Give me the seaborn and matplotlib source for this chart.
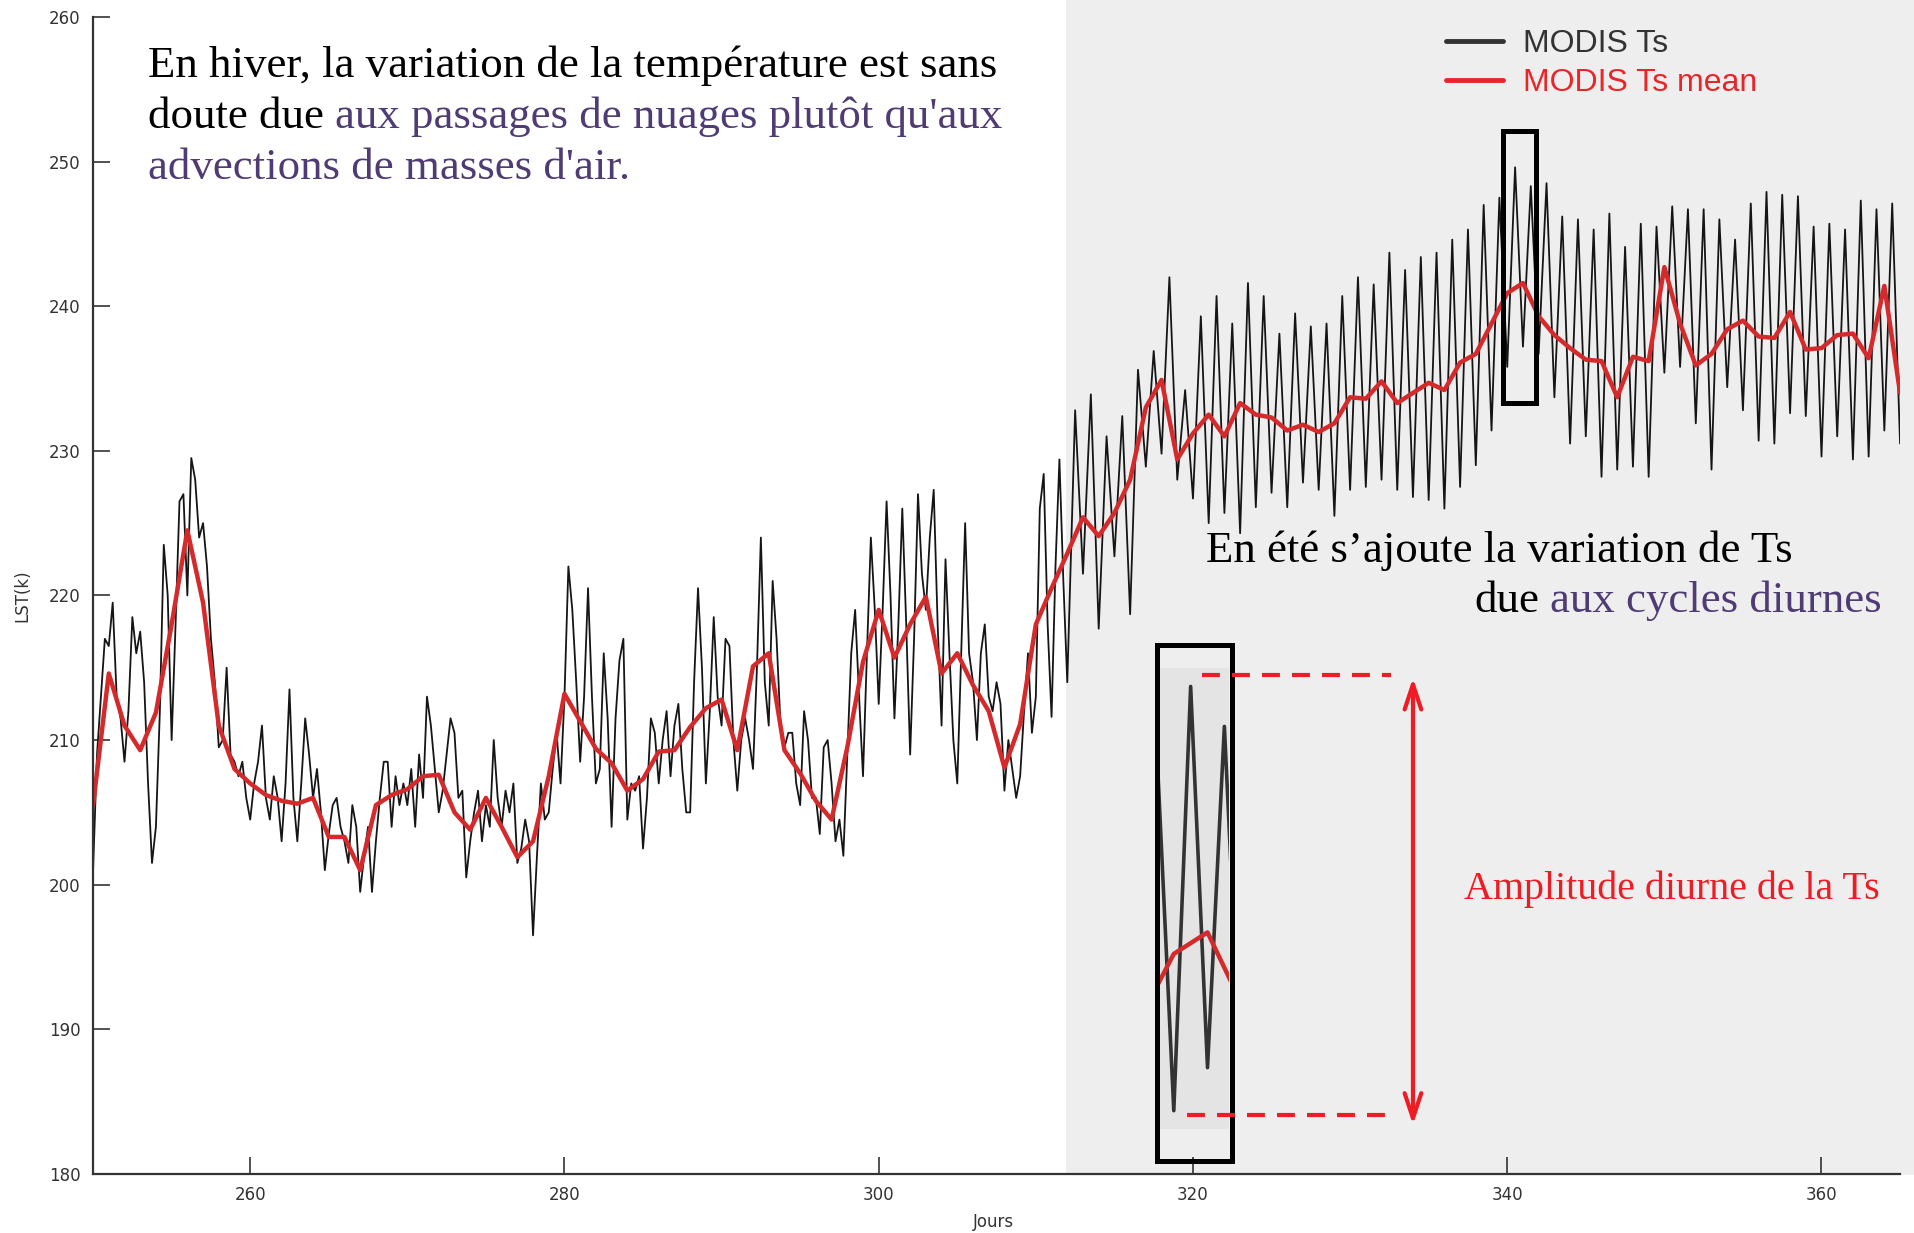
import numpy as np
import pandas as pd
import seaborn as sns
import matplotlib.pyplot as plt
from matplotlib.patches import Rectangle
from matplotlib.transforms import Affine2D

# MODIS Ts, hiver : 4 valeurs par jour (jours 250 a 312)
winter_days = np.arange(250, 312.01, 0.25)
winter_ts = [
    201.0, 209.0, 213.0, 217.0, 216.5, 219.5, 213.0, 211.5,
    208.5, 212.0, 218.5, 216.0, 217.5, 214.0, 207.0, 201.5,
    204.0, 212.0, 223.5, 220.0, 210.0, 218.0, 226.5, 227.0,
    220.0, 229.5, 228.0, 224.0, 225.0, 222.0, 217.0, 214.0,
    209.5, 210.0, 215.0, 209.0, 208.5, 207.5, 208.5, 206.0,
    204.5, 207.0, 208.5, 211.0, 206.0, 204.5, 207.5, 206.0,
    203.0, 207.0, 213.5, 206.0, 203.0, 207.0, 211.5, 209.0,
    206.0, 208.0, 205.0, 201.0, 203.5, 205.5, 206.0, 204.0,
    203.0, 201.5, 205.5, 204.0, 199.5, 202.0, 204.0, 199.5,
    203.0, 206.0, 208.5, 208.5, 204.0, 207.5, 205.5, 207.0,
    205.5, 208.0, 204.0, 209.0, 206.0, 213.0, 211.0, 208.0,
    205.0, 206.5, 209.0, 211.5, 210.5, 206.0, 206.5, 200.5,
    203.0, 205.0, 206.5, 203.0, 205.5, 204.0, 210.0, 206.0,
    204.0, 206.5, 205.0, 207.0, 201.5, 202.5, 204.5, 203.0,
    196.5, 202.0, 207.0, 204.5, 205.0, 208.0, 210.5, 207.0,
    213.0, 222.0, 219.0, 214.0, 208.5, 213.0, 220.5, 213.0,
    207.0, 208.0, 216.0, 211.5, 204.0, 211.5, 215.5, 217.0,
    204.5, 207.0, 206.5, 207.5, 202.5, 206.0, 211.5, 210.5,
    207.0, 210.0, 212.0, 207.5, 211.0, 212.5, 208.0, 205.0,
    205.0, 214.0, 220.5, 215.0, 207.0, 212.0, 218.5, 213.0,
    211.0, 217.0, 216.5, 210.0, 206.5, 210.0, 211.5, 210.0,
    208.0, 215.0, 224.0, 214.0, 211.0, 221.0, 217.0, 211.0,
    209.5, 210.5, 210.5, 207.0, 205.5, 212.0, 210.0, 206.0,
    206.0, 203.5, 209.5, 210.0, 207.0, 203.0, 204.5, 202.0,
    209.0, 216.0, 219.0, 213.0, 207.5, 216.0, 224.0, 219.0,
    212.5, 219.0, 226.5, 220.0, 211.5, 218.0, 226.0, 218.0,
    209.0, 217.0, 227.0, 221.5, 219.0, 224.0, 227.3, 218.0,
    211.0, 222.5, 216.0, 210.0, 207.0, 216.0, 225.0, 216.0,
    214.0, 210.0, 216.0, 218.0, 213.0, 212.0, 214.0, 212.5,
    206.5, 210.0, 208.0, 206.0, 207.5, 212.0, 216.0, 210.5,
    213.0, 226.0, 228.4, 218.0, 211.6, 222.0, 229.4, 221.0,
    214.0,
]

# MODIS Ts, ete : cycle diurne, 2 valeurs par jour (jours 312.5 a 365)
summer_days = np.arange(312.5, 365.01, 0.5)
summer_ts = [
    232.8, 221.5, 233.9, 217.7, 231.0, 222.7, 232.4, 218.7, 235.6, 228.9,
    236.9, 229.8, 242.0, 228.0, 234.2, 226.7, 239.3, 225.0, 240.7, 225.7,
    238.8, 224.3, 241.6, 226.1, 240.7, 227.1, 238.1, 226.1, 239.5, 227.8,
    238.6, 227.3, 238.8, 225.5, 240.7, 227.3, 242.0, 227.5, 241.5, 228.0,
    243.7, 227.3, 242.5, 226.8, 243.4, 226.6, 243.7, 226.0, 244.6, 227.5,
    245.3, 229.0, 247.0, 231.4, 247.5, 235.8, 249.6, 237.2, 248.3, 236.7,
    248.5, 233.7, 246.2, 230.5, 246.0, 231.0, 245.3, 228.2, 246.4, 228.7,
    244.1, 228.9, 245.7, 228.2, 245.5, 235.4, 246.9, 235.8, 246.7, 231.9,
    246.7, 228.7, 246.0, 234.4, 244.6, 232.8, 247.1, 230.7, 247.9, 230.5,
    247.7, 232.6, 247.6, 232.4, 245.5, 229.6, 245.7, 231.0, 245.3, 229.4,
    247.3, 229.6, 246.7, 231.4, 247.1, 230.5,
]

# MODIS Ts mean, une valeur par jour (250 a 365)
mean_days = np.arange(250, 366)
mean_ts = [
    205.5, 214.6, 211.0, 209.3, 211.9, 218.0, 224.5, 219.5, 211.0, 208.0,
    207.0, 206.2, 205.8, 205.6, 206.0, 203.3, 203.3, 201.0, 205.5, 206.2,
    206.6, 207.5, 207.6, 205.0, 203.8, 206.0, 204.0, 201.9, 203.0, 207.5,
    213.2, 211.3, 209.4, 208.4, 206.5, 207.3, 209.2, 209.3, 210.9, 212.2,
    212.8, 209.3, 215.1, 216.0, 209.3, 207.7, 205.8, 204.5, 209.5, 215.4,
    219.0, 215.7, 218.0, 219.9, 214.6, 216.0, 213.8, 212.0, 208.1, 211.1,
    218.0, 220.5, 222.9, 225.4, 224.1, 225.7, 228.0, 233.0, 234.9, 229.4,
    231.2, 232.5, 231.0, 233.3, 232.5, 232.3, 231.4, 231.8, 231.3, 231.9,
    233.7, 233.6, 234.8, 233.3, 234.0, 234.7, 234.2, 236.1, 236.7, 238.8,
    240.9, 241.6, 239.3, 238.0, 237.1, 236.3, 236.2, 233.7, 236.5, 236.2,
    242.7, 238.8, 235.9, 236.7, 238.4, 239.0, 237.9, 237.8, 239.6, 237.0,
    237.1, 238.0, 238.1, 236.4, 241.4, 234.0,
]

ts = pd.DataFrame({'jour': np.concatenate([winter_days, summer_days]),
                   'ts': winter_ts + summer_ts})
ts_mean = pd.DataFrame({'jour': mean_days, 'ts': mean_ts})

BLACK = '#151515'
RED_LINE = '#d42a2c'
RED = '#ee1c24'
PURPLE = '#4f3c75'

sns.set_theme(style='ticks')
plt.rcParams['font.family'] = ['DejaVu Sans']

fig = plt.figure(figsize=(19.15, 12.33), dpi=100)
# fond gris de la partie "ete"
fig.patches.append(Rectangle((1066 / 1915, 0.047), 1, 1, transform=fig.transFigure,
                             facecolor='#eeeeee', edgecolor='none', zorder=-1))
ax = fig.add_axes([0.0486, 0.0479, 0.9436, 0.9384])
ax.set_facecolor('none')

sns.lineplot(data=ts, x='jour', y='ts', estimator=None, color=BLACK, lw=1.3,
             ax=ax, label='MODIS Ts')
sns.lineplot(data=ts_mean, x='jour', y='ts', estimator=None, color=RED_LINE, lw=3.2,
             ax=ax, label='MODIS Ts mean')

ax.set_xlim(250, 365)
ax.set_ylim(180, 260)
ax.set_xticks(range(260, 361, 20))
ax.set_yticks(range(180, 261, 10))
ax.tick_params(direction='in', length=12, width=1.2, colors='#333333', labelsize=12, pad=9)
sns.despine(ax=ax)
for s in ['left', 'bottom']:
    ax.spines[s].set_linewidth(1.6)
    ax.spines[s].set_color('#333333')

ax.set_xlabel('Jours', fontsize=12, color='#333333', va='center')
ax.set_ylabel('LST(k)', fontsize=12, color='#333333', va='center')
ax.xaxis.set_label_coords(0.498, -0.0415)
ax.yaxis.set_label_coords(-0.0393, 0.5)

leg = ax.legend(loc='upper left', bbox_to_anchor=(1446 / 1915, 1 - 29 / 1233),
                bbox_transform=fig.transFigure, frameon=False,
                prop={'family': 'Liberation Sans', 'size': 23},
                handlelength=1.8, handletextpad=0.6, labelspacing=0.28,
                borderpad=0, borderaxespad=0)
for line, text, c in zip(leg.get_lines(), leg.get_texts(), ['#333333', '#e8262a']):
    line.set_color(c)
    line.set_linewidth(3.5)
    text.set_color(c)

# zoom sur un cycle diurne
axins = ax.inset_axes([317.92, 183.1, 4.4, 31.88], transform=ax.transData)
axins.set_facecolor('#e4e4e4')
sns.lineplot(data=ts, x='jour', y='ts', estimator=None, color='#333333', lw=2.6,
             ax=axins, legend=False)
sns.lineplot(data=ts_mean, x='jour', y='ts', estimator=None, color=RED_LINE, lw=3.2,
             ax=axins, legend=False)
axins.set_xlim(339.6, 341.65)
axins.set_ylim(235.2, 250.2)
axins.set_xticks([])
axins.set_yticks([])
axins.set_xlabel('')
axins.set_ylabel('')
for s in axins.spines.values():
    s.set_visible(False)

ax.add_patch(Rectangle((317.7, 180.9), 4.8, 35.7, fill=False, lw=3.6, ec='black',
                       zorder=6, clip_on=False))
ax.add_patch(Rectangle((339.75, 233.3), 2.05, 18.8, fill=False, lw=3.6, ec='black',
                       zorder=6))

# amplitude diurne
ax.plot([320.6, 332.6], [214.5, 214.5], color=RED, lw=3, dashes=(4.3, 2.9), zorder=7)
ax.plot([319.6, 332.6], [184.1, 184.1], color=RED, lw=3, dashes=(4.3, 2.9), zorder=7)
ax.annotate('', xy=(334.0, 183.4), xytext=(334.0, 214.3), zorder=7,
            arrowprops=dict(arrowstyle='<->, head_length=0.9, head_width=0.3',
                            color=RED, lw=3, shrinkA=0, shrinkB=0, mutation_scale=20))

# textes (coordonnees en pixels depuis le coin haut gauche)
px = Affine2D().scale(1 / 1915, -1 / 1233).translate(0, 1) + fig.transFigure
serif = dict(family='Liberation Serif', size=32.3)

fig.text(148, 77, 'En hiver, la variation de la température est sans', transform=px,
         va='baseline', color='black', **serif)
t = fig.text(148, 128, 'doute due', transform=px, va='baseline', color='black', **serif)
ax.annotate("aux passages de nuages plutôt qu'aux", xy=(1, 0), xycoords=t,
            xytext=(8, 0), textcoords='offset points', va='bottom', ha='left',
            color=PURPLE, **serif)
fig.text(148, 179, "advections de masses d'air.", transform=px, va='baseline',
         color=PURPLE, **serif)

fig.text(1206, 562, 'En été s’ajoute la variation de Ts', transform=px, va='baseline',
         color='black', **serif)
t = fig.text(1882, 612, 'aux cycles diurnes', transform=px, va='baseline', ha='right',
             color=PURPLE, **serif)
ax.annotate('due', xy=(0, 0), xycoords=t, xytext=(-8, 0), textcoords='offset points',
            va='bottom', ha='right', color='black', **serif)

fig.text(1464, 899, 'Amplitude diurne de la Ts', transform=px, va='baseline',
         color=RED, family='Liberation Serif', size=28.8)

fig.savefig('out.png', dpi=100)
